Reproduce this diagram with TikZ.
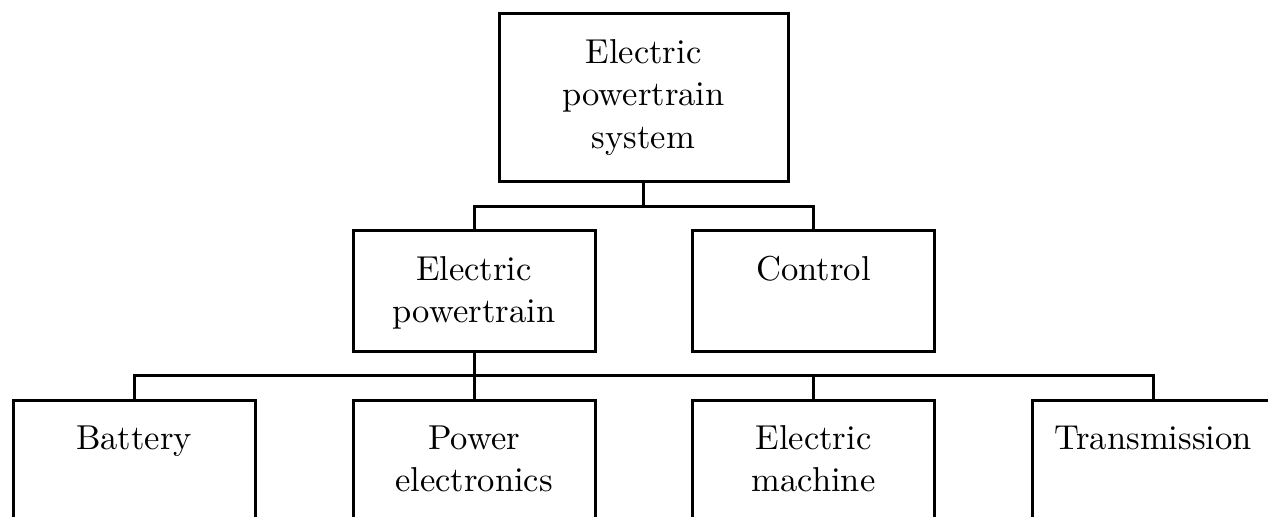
\documentclass[tikz,border=0pt]{standalone}
\usetikzlibrary{calc}
\begin{document}
\begin{tikzpicture}[x=0.5pt,y=-0.5pt,
  box/.style={draw,line width=1.5pt,rectangle,minimum width=121pt,minimum height=60.5pt,inner sep=0pt,outer sep=0pt},
  topbox/.style={box,minimum width=144.5pt,minimum height=84pt},
  lbl/.style={font=\fontsize{10}{12.3}\selectfont,scale=1.728,transform shape,align=center,anchor=base,inner sep=0pt},
  conn/.style={line width=1.5pt}]
\useasboundingbox (0,0) rectangle (1268,517);
% boxes
\node[topbox] (top) at (643.5,98) {};
\node[box] (epw) at (474,291.5) {};
\node[box] (ctl) at (813.5,291.5) {};
\node[box] (bat) at (134,461.5) {};
\node[box] (pe) at (474,461.5) {};
\node[box] (em) at (813.5,461.5) {};
\node[box] (trn) at (1153,461.5) {};
% labels (base anchor = baseline of the last line)
\node[lbl] (ltop) at ($(top.north)+(0,134.3)$) {Electric\\powertrain\\system};
\node[lbl] (lepw) at ($(epw.north)+(0,91.8)$) {Electric\\powertrain};
\node[lbl] (lctl) at ($(ctl.north)+(0,49.3)$) {Control};
\node[lbl] (lbat) at ($(bat.north)+(0,48.5)$) {Battery};
\node[lbl] (lpe) at ($(pe.north)+(0,91)$) {Power\\electronics};
\node[lbl] (lem) at ($(em.north)+(0,91)$) {Electric\\machine};
\node[lbl] (ltrn) at ($(trn.north)+(0,48.5)$) {Transmission};
% connectors
\coordinate (b1) at ($(top.south)+(0,24.5)$);
\coordinate (b2) at ($(epw.south)+(0,24)$);
\draw[conn] (top.south) -- (b1);
\draw[conn] (epw.north) |- (b1) -| (ctl.north);
\draw[conn] (epw.south) -- (pe.north);
\draw[conn] (bat.north) |- (b2) -| (trn.north);
\draw[conn] (em.north) -- (em.north |- b2);
\end{tikzpicture}
\end{document}
